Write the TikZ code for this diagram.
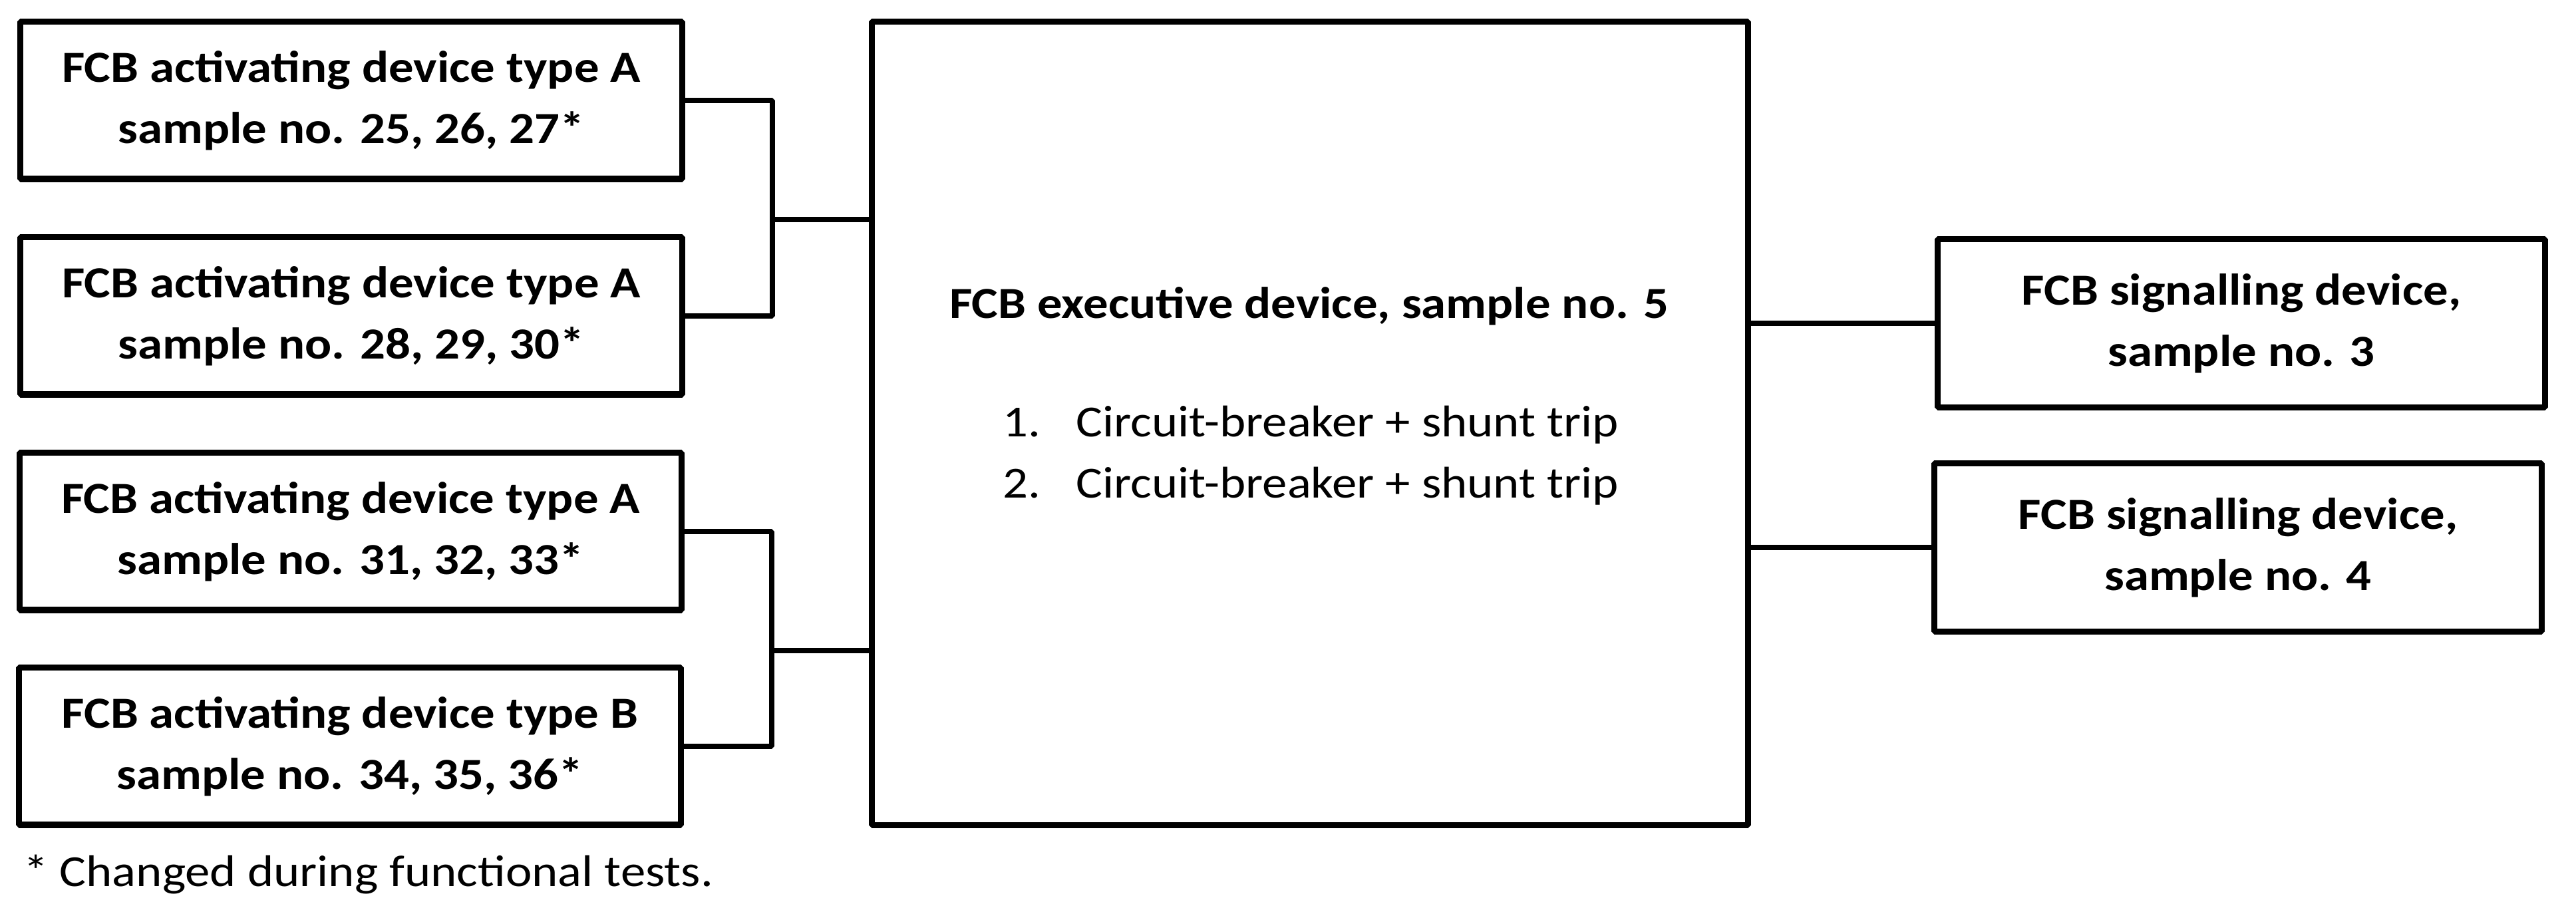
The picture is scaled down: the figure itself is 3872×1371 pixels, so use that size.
\documentclass[tikz,border=0pt]{standalone}
\usepackage{fontspec}
\setmainfont{Carlito}[FakeStretch=1.12]
\begin{document}
\begin{tikzpicture}[x=0.01cm,y=-0.01cm,
  line width=2.6pt, line join=bevel,
  txt/.style={font=\fontsize{19}{26.2}\selectfont},
  btxt/.style={font=\bfseries\fontsize{19}{26.2}\selectfont},
  actbox/.style={draw, inner sep=0pt, minimum width=9.95cm, minimum height=2.36cm, align=center, btxt},
  sigbox/.style={draw, inner sep=0pt, minimum width=9.13cm, minimum height=2.53cm, align=center, btxt},
  execbox/.style={draw, inner sep=0pt, minimum width=13.16cm, minimum height=12.07cm},
  wire/.style={line width=2.5pt}
]
\useasboundingbox (0,0) rectangle (3872,1371);
\fill[white] (0,0) rectangle (3872,1371);

\node[actbox] (a1) at (528,151) {FCB activating device type A\\sample no. 25, 26, 27*};
\node[actbox] (a2) at (528,475) {FCB activating device type A\\sample no. 28, 29, 30*};
\node[actbox] (a3) at (527,799) {FCB activating device type A\\sample no. 31, 32, 33*};
\node[actbox] (b1) at (526,1122) {FCB activating device type B\\sample no. 34, 35, 36*};

\node[execbox] (ex) at (1969,636.5) {};
\node[btxt, anchor=base] (extitle) at (1968,479) {FCB executive device, sample no. 5};
\node[txt, anchor=base west, inner sep=0pt] (n1) at (1503,657) {1.};
\node[txt, anchor=base west, inner sep=0pt] (t1) at (1613,657) {Circuit-breaker + shunt trip};
\node[txt, anchor=base west, inner sep=0pt] (n2) at (1503,749) {2.};
\node[txt, anchor=base west, inner sep=0pt] (t2) at (1613,749) {Circuit-breaker + shunt trip};

\node[sigbox] (s1) at (3369,486) {FCB signalling device,\\sample no. 3};
\node[sigbox] (s2) at (3364,823) {FCB signalling device,\\sample no. 4};

\node[txt, anchor=base west, inner sep=0pt] (fn) at (31,1333) {* Changed during functional tests.};

\coordinate (jt) at (1161,330);
\coordinate (jb) at (1160,978);

\draw[wire] (a1.east) -| (jt) |- (a2.east);
\draw[wire] (jt) -- (jt -| ex.west);
\draw[wire] (a3.east) -| (jb) |- (b1.east);
\draw[wire] (jb) -- (jb -| ex.west);
\draw[wire] (s1.west) -- (s1.west -| ex.east);
\draw[wire] (s2.west) -- (s2.west -| ex.east);
\end{tikzpicture}
\end{document}
